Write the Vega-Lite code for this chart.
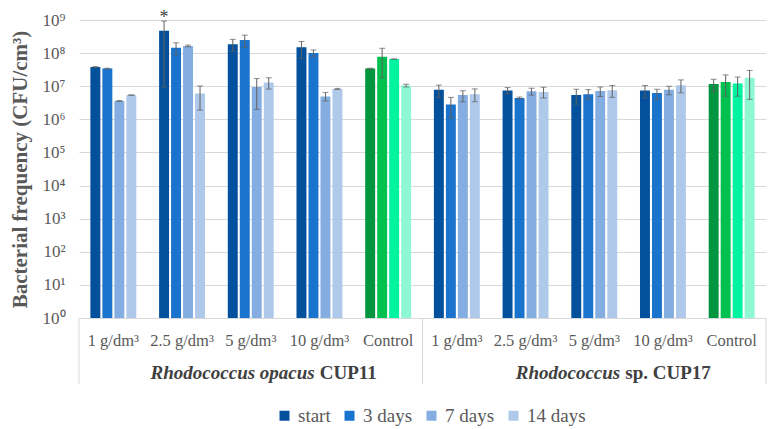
{
  "$schema": "https://vega.github.io/schema/vega-lite/v6.json",
  "padding": {"left": 8, "top": 9, "right": 9, "bottom": 0},
  "bounds": "flush",
  "config": {
    "font": "Liberation Serif",
    "view": {"stroke": null},
    "legend": {"labelFont": "Liberation Serif"},
    "axisY": {
      "grid": true, "gridColor": "#d9d9d9", "gridWidth": 1,
      "domain": false, "ticks": false,
      "labelFont": "Liberation Serif", "titleFont": "Liberation Serif",
      "labelFontSize": 17, "labelColor": "#595959", "labelPadding": 14,
      "titleFontSize": 21, "titleFontWeight": "bold", "titleColor": "#595959", "titlePadding": 12
    }
  },
  "spacing": 0,
  "datasets": {
    "counts": [
      {"grp": "CUP11 | 1 g/dm³", "conc": "1 g/dm³", "time": "start", "v": 38000000, "lo": 37000000, "hi": 39000000},
      {"grp": "CUP11 | 1 g/dm³", "conc": "1 g/dm³", "time": "3 days", "v": 34000000, "lo": 33000000, "hi": 35000000},
      {"grp": "CUP11 | 1 g/dm³", "conc": "1 g/dm³", "time": "7 days", "v": 3600000, "lo": 3500000, "hi": 3700000},
      {"grp": "CUP11 | 1 g/dm³", "conc": "1 g/dm³", "time": "14 days", "v": 5400000, "lo": 5300000, "hi": 5500000},
      {"grp": "CUP11 | 2.5 g/dm³", "conc": "2.5 g/dm³", "time": "start", "v": 470000000, "lo": 9500000, "hi": 930000000, "note": "*"},
      {"grp": "CUP11 | 2.5 g/dm³", "conc": "2.5 g/dm³", "time": "3 days", "v": 145000000, "lo": 90000000, "hi": 205000000},
      {"grp": "CUP11 | 2.5 g/dm³", "conc": "2.5 g/dm³", "time": "7 days", "v": 165000000, "lo": 155000000, "hi": 175000000},
      {"grp": "CUP11 | 2.5 g/dm³", "conc": "2.5 g/dm³", "time": "14 days", "v": 6000000, "lo": 1900000, "hi": 10200000},
      {"grp": "CUP11 | 5 g/dm³", "conc": "5 g/dm³", "time": "start", "v": 185000000, "lo": 115000000, "hi": 260000000},
      {"grp": "CUP11 | 5 g/dm³", "conc": "5 g/dm³", "time": "3 days", "v": 250000000, "lo": 150000000, "hi": 350000000},
      {"grp": "CUP11 | 5 g/dm³", "conc": "5 g/dm³", "time": "7 days", "v": 9500000, "lo": 2000000, "hi": 17000000},
      {"grp": "CUP11 | 5 g/dm³", "conc": "5 g/dm³", "time": "14 days", "v": 13000000, "lo": 8200000, "hi": 18000000},
      {"grp": "CUP11 | 10 g/dm³", "conc": "10 g/dm³", "time": "start", "v": 150000000, "lo": 70000000, "hi": 225000000},
      {"grp": "CUP11 | 10 g/dm³", "conc": "10 g/dm³", "time": "3 days", "v": 100000000, "lo": 80000000, "hi": 125000000},
      {"grp": "CUP11 | 10 g/dm³", "conc": "10 g/dm³", "time": "7 days", "v": 4900000, "lo": 3600000, "hi": 6500000},
      {"grp": "CUP11 | 10 g/dm³", "conc": "10 g/dm³", "time": "14 days", "v": 8300000, "lo": 8000000, "hi": 8600000},
      {"grp": "CUP11 | Control", "conc": "Control", "time": "start", "v": 34000000, "lo": 33000000, "hi": 35000000},
      {"grp": "CUP11 | Control", "conc": "Control", "time": "3 days", "v": 78000000, "lo": 18000000, "hi": 140000000},
      {"grp": "CUP11 | Control", "conc": "Control", "time": "7 days", "v": 66000000, "lo": 65000000, "hi": 67000000},
      {"grp": "CUP11 | Control", "conc": "Control", "time": "14 days", "v": 10500000, "lo": 9500000, "hi": 11500000},
      {"grp": "CUP17 | 1 g/dm³", "conc": "1 g/dm³", "time": "start", "v": 7800000, "lo": 4600000, "hi": 10800000},
      {"grp": "CUP17 | 1 g/dm³", "conc": "1 g/dm³", "time": "3 days", "v": 2800000, "lo": 1100000, "hi": 4600000},
      {"grp": "CUP17 | 1 g/dm³", "conc": "1 g/dm³", "time": "7 days", "v": 5400000, "lo": 3400000, "hi": 7300000},
      {"grp": "CUP17 | 1 g/dm³", "conc": "1 g/dm³", "time": "14 days", "v": 5700000, "lo": 3400000, "hi": 8300000},
      {"grp": "CUP17 | 2.5 g/dm³", "conc": "2.5 g/dm³", "time": "start", "v": 7400000, "lo": 5900000, "hi": 9100000},
      {"grp": "CUP17 | 2.5 g/dm³", "conc": "2.5 g/dm³", "time": "3 days", "v": 4400000, "lo": 4100000, "hi": 4700000},
      {"grp": "CUP17 | 2.5 g/dm³", "conc": "2.5 g/dm³", "time": "7 days", "v": 7000000, "lo": 5400000, "hi": 8700000},
      {"grp": "CUP17 | 2.5 g/dm³", "conc": "2.5 g/dm³", "time": "14 days", "v": 6700000, "lo": 4400000, "hi": 9300000},
      {"grp": "CUP17 | 5 g/dm³", "conc": "5 g/dm³", "time": "start", "v": 5400000, "lo": 2900000, "hi": 8100000},
      {"grp": "CUP17 | 5 g/dm³", "conc": "5 g/dm³", "time": "3 days", "v": 5700000, "lo": 4000000, "hi": 7900000},
      {"grp": "CUP17 | 5 g/dm³", "conc": "5 g/dm³", "time": "7 days", "v": 7200000, "lo": 4900000, "hi": 9500000},
      {"grp": "CUP17 | 5 g/dm³", "conc": "5 g/dm³", "time": "14 days", "v": 7600000, "lo": 4600000, "hi": 10500000},
      {"grp": "CUP17 | 10 g/dm³", "conc": "10 g/dm³", "time": "start", "v": 7400000, "lo": 4400000, "hi": 10500000},
      {"grp": "CUP17 | 10 g/dm³", "conc": "10 g/dm³", "time": "3 days", "v": 6200000, "lo": 4000000, "hi": 8100000},
      {"grp": "CUP17 | 10 g/dm³", "conc": "10 g/dm³", "time": "7 days", "v": 7800000, "lo": 5500000, "hi": 10000000},
      {"grp": "CUP17 | 10 g/dm³", "conc": "10 g/dm³", "time": "14 days", "v": 10700000, "lo": 6300000, "hi": 15500000},
      {"grp": "CUP17 | Control", "conc": "Control", "time": "start", "v": 11700000, "lo": 6900000, "hi": 16200000},
      {"grp": "CUP17 | Control", "conc": "Control", "time": "3 days", "v": 13500000, "lo": 5000000, "hi": 22000000},
      {"grp": "CUP17 | Control", "conc": "Control", "time": "7 days", "v": 12000000, "lo": 5000000, "hi": 19000000},
      {"grp": "CUP17 | Control", "conc": "Control", "time": "14 days", "v": 18000000, "lo": 4000000, "hi": 30000000}
    ],
    "groups": [
      {"grp": "CUP11 | 1 g/dm³", "conc": "1 g/dm³"},
      {"grp": "CUP11 | 2.5 g/dm³", "conc": "2.5 g/dm³"},
      {"grp": "CUP11 | 5 g/dm³", "conc": "5 g/dm³"},
      {"grp": "CUP11 | 10 g/dm³", "conc": "10 g/dm³"},
      {"grp": "CUP11 | Control", "conc": "Control"},
      {"grp": "CUP17 | 1 g/dm³", "conc": "1 g/dm³"},
      {"grp": "CUP17 | 2.5 g/dm³", "conc": "2.5 g/dm³"},
      {"grp": "CUP17 | 5 g/dm³", "conc": "5 g/dm³"},
      {"grp": "CUP17 | 10 g/dm³", "conc": "10 g/dm³"},
      {"grp": "CUP17 | Control", "conc": "Control"}
    ],
    "strains": [
      {"grp": "CUP11 | 5 g/dm³", "strain": "CUP11", "genus": "Rhodococcus opacus", "rest": "CUP11"},
      {"grp": "CUP17 | 5 g/dm³", "strain": "CUP17", "genus": "Rhodococcus", "rest": "sp. CUP17"}
    ]
  },
  "vconcat": [
    {
      "width": 687,
      "height": 298,
      "data": {"name": "counts"},
      "transform": [
        {"calculate": "datum.conc === 'Control' ? 'Control ' + datum.time : datum.time", "as": "series"}
      ],
      "encoding": {
        "x": {
          "field": "grp", "type": "nominal",
          "scale": {"domain": ["CUP11 | 1 g/dm³", "CUP11 | 2.5 g/dm³", "CUP11 | 5 g/dm³", "CUP11 | 10 g/dm³", "CUP11 | Control", "CUP17 | 1 g/dm³", "CUP17 | 2.5 g/dm³", "CUP17 | 5 g/dm³", "CUP17 | 10 g/dm³", "CUP17 | Control"], "paddingInner": 0, "paddingOuter": 0},
          "axis": null
        },
        "xOffset": {
          "field": "time", "type": "nominal",
          "scale": {"domain": ["start", "3 days", "7 days", "14 days"], "paddingInner": 0.17, "paddingOuter": 0.95}
        }
      },
      "layer": [
        {
          "mark": {"type": "bar"},
          "encoding": {
            "y": {
              "field": "v", "type": "quantitative", "stack": null,
              "scale": {"type": "log", "domain": [1, 1000000000]},
              "title": "Bacterial frequency (CFU/cm³)",
              "axis": {
                "values": [1, 10, 100, 1000, 10000, 100000, 1000000, 10000000, 100000000, 1000000000],
                "labelExpr": "'10' + ['⁰','¹','²','³','⁴','⁵','⁶','⁷','⁸','⁹'][round(log(datum.value) / LN10)]"
              }
            },
            "color": {
              "field": "series", "type": "nominal",
              "scale": {
                "domain": ["start", "3 days", "7 days", "14 days", "Control start", "Control 3 days", "Control 7 days", "Control 14 days"],
                "range": ["#03519c", "#1a73cc", "#84ade1", "#aec9ea", "#00963f", "#00c050", "#00f39f", "#8ef8d3"]
              },
              "legend": {
                "values": ["start", "3 days", "7 days", "14 days"],
                "title": null, "orient": "none", "direction": "horizontal",
                "legendX": 196, "legendY": 386,
                "symbolType": "square", "symbolSize": 100, "symbolStrokeWidth": 0,
                "labelFont": "Liberation Serif", "labelFontSize": 19, "labelColor": "#595959", "labelOffset": 4,
                "columnPadding": 9,
                "labelLimit": 200
              }
            }
          }
        },
        {
          "mark": {"type": "rule", "color": "#606060", "strokeWidth": 1},
          "encoding": {
            "y": {"field": "lo", "type": "quantitative", "scale": {"type": "log", "domain": [1, 1000000000]}, "title": "Bacterial frequency (CFU/cm³)"},
            "y2": {"field": "hi"}
          }
        },
        {
          "mark": {"type": "tick", "color": "#606060", "size": 6, "thickness": 1},
          "encoding": {"y": {"field": "lo", "type": "quantitative", "scale": {"type": "log", "domain": [1, 1000000000]}, "title": "Bacterial frequency (CFU/cm³)"}}
        },
        {
          "mark": {"type": "tick", "color": "#606060", "size": 6, "thickness": 1},
          "encoding": {"y": {"field": "hi", "type": "quantitative", "scale": {"type": "log", "domain": [1, 1000000000]}, "title": "Bacterial frequency (CFU/cm³)"}}
        },
        {
          "transform": [{"filter": "datum.note"}],
          "mark": {"type": "text", "fontSize": 18, "color": "#404040", "baseline": "alphabetic", "dy": 2},
          "encoding": {
            "y": {"field": "hi", "type": "quantitative", "scale": {"type": "log", "domain": [1, 1000000000]}, "title": "Bacterial frequency (CFU/cm³)"},
            "text": {"field": "note"}
          }
        }
      ]
    },
    {
      "width": 687,
      "height": 66,
      "layer": [
        {
          "data": {"name": "groups"},
          "transform": [{"filter": "datum.conc === '1 g/dm³'"}],
          "mark": {"type": "rule", "color": "#d9d9d9", "strokeWidth": 1},
          "encoding": {"x": {"field": "grp", "type": "nominal", "bandPosition": 0, "scale": {"domain": ["CUP11 | 1 g/dm³", "CUP11 | 2.5 g/dm³", "CUP11 | 5 g/dm³", "CUP11 | 10 g/dm³", "CUP11 | Control", "CUP17 | 1 g/dm³", "CUP17 | 2.5 g/dm³", "CUP17 | 5 g/dm³", "CUP17 | 10 g/dm³", "CUP17 | Control"], "paddingInner": 0, "paddingOuter": 0}, "axis": null}}
        },
        {
          "data": {"name": "groups"},
          "transform": [{"filter": "datum.grp === 'CUP17 | Control'"}],
          "mark": {"type": "rule", "color": "#d9d9d9", "strokeWidth": 1},
          "encoding": {"x": {"field": "grp", "type": "nominal", "bandPosition": 1, "axis": null}}
        },
        {
          "data": {"name": "groups"},
          "mark": {"type": "text", "fontSize": 16.5, "color": "#595959", "baseline": "middle", "dy": -10},
          "encoding": {
            "x": {"field": "grp", "type": "nominal", "axis": null},
            "text": {"field": "conc"}
          }
        },
        {
          "data": {"name": "strains"},
          "transform": [{"filter": "datum.strain === 'CUP11'"}],
          "mark": {"type": "text", "fontSize": 19, "fontWeight": "bold", "fontStyle": "italic", "color": "#404040", "align": "right", "baseline": "middle", "dx": 64, "dy": 22},
          "encoding": {"x": {"field": "grp", "type": "nominal", "axis": null}, "text": {"field": "genus"}}
        },
        {
          "data": {"name": "strains"},
          "transform": [{"filter": "datum.strain === 'CUP11'"}],
          "mark": {"type": "text", "fontSize": 19, "fontWeight": "bold", "color": "#404040", "align": "left", "baseline": "middle", "dx": 69, "dy": 22},
          "encoding": {"x": {"field": "grp", "type": "nominal", "axis": null}, "text": {"field": "rest"}}
        },
        {
          "data": {"name": "strains"},
          "transform": [{"filter": "datum.strain === 'CUP17'"}],
          "mark": {"type": "text", "fontSize": 19, "fontWeight": "bold", "fontStyle": "italic", "color": "#404040", "align": "right", "baseline": "middle", "dx": 26, "dy": 22},
          "encoding": {"x": {"field": "grp", "type": "nominal", "axis": null}, "text": {"field": "genus"}}
        },
        {
          "data": {"name": "strains"},
          "transform": [{"filter": "datum.strain === 'CUP17'"}],
          "mark": {"type": "text", "fontSize": 19, "fontWeight": "bold", "color": "#404040", "align": "left", "baseline": "middle", "dx": 31, "dy": 22},
          "encoding": {"x": {"field": "grp", "type": "nominal", "axis": null}, "text": {"field": "rest"}}
        }
      ]
    }
  ]
}
